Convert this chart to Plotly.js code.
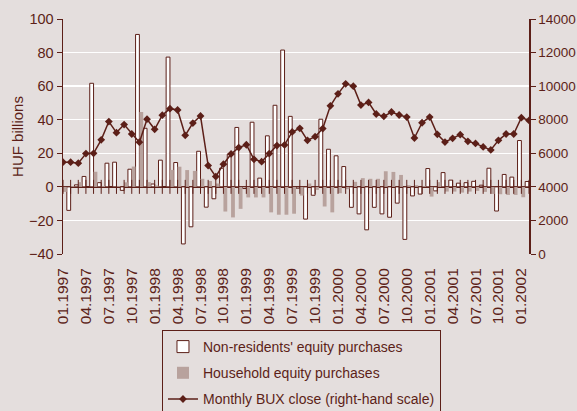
<!DOCTYPE html>
<html>
<head>
<meta charset="utf-8">
<script src="https://cdn.plot.ly/plotly-3.0.1.min.js"></script>
<style>
  html, body { margin: 0; padding: 0; background: #e4dedd; }
  #chart { width: 577px; height: 411px; }
</style>
</head>
<body>
<div id="chart"></div>
<script>
// Month-end BUX closes, 01.1997 - 02.2002 (right-hand scale)
const buxClose = [5470, 5470, 5410, 5980, 6000, 6800, 7890, 7230, 7710, 7150,
  6660, 8030, 7430, 8270, 8660, 8580, 7070, 7800, 8220, 5270,
  4610, 5350, 5960, 6340, 6510, 5640, 5500, 5980, 6460, 6500,
  7270, 7490, 6770, 6990, 7470, 8830, 9540, 10140, 10000, 8870,
  9030, 8340, 8200, 8460, 8280, 8160, 6910, 7820, 8160, 7130,
  6670, 6890, 7110, 6710, 6590, 6380, 6200, 6770, 7150, 7150,
  8120, 7960];

// Monthly flows between closes (HUF billions)
const nonResidents = [-14, 1.2, 6.2, 61.7, 2.5, 14.1, 14.7, -2.1, 10.5, 90.8,
  34.9, 1.7, 15.9, 77.3, 14.5, -34, -23.8, 21.2, -12.1, -7.1,
  11.1, 19.5, 35.4, -1, 38.5, 5.2, 30.4, 48.6, 81.5, 42,
  -0.8, -19.2, -5, 40.3, 22.4, 18.5, 12.1, -12.2, -16.1, -25.6,
  -12.2, -16.1, -18.1, -9.7, -31.3, -5.4, -4.3, 10.9, -2.4, 8.5,
  4, 2.2, 2.5, 3.3, 1, 11.1, -14.4, 7.4, 5.8, 27.6,
  3.2];

const household = [-3, 0.5, 2.8, 0, 9, 0.5, 0, 0.5, 2.7, 12.1,
  44.6, 2.8, 0.8, 0, 10.1, 12, 10, 9.5, 4.8, 3.5,
  2, -14.7, -18.2, -13.1, -6.3, -6.3, -6.3, -15.2, -16.6, -16.6,
  -16, -5.2, 2, -1.8, -11.7, -15.2, -3.8, -1.4, 3, 5.2,
  4.8, 4.8, 9.3, 8.9, 7.1, 1, 1, 0.5, -5.8, 2.8,
  -2.8, -2.8, -3.4, -2.8, -2.4, -3, -4.2, -4.4, -4.8, -4.8,
  -6.2];

const tickLabels = ["01.1997", "04.1997", "07.1997", "10.1997", "01.1998", "04.1998",
  "07.1998", "10.1998", "01.1999", "04.1999", "07.1999", "10.1999", "01.2000",
  "04.2000", "07.2000", "10.2000", "01.2001", "04.2001", "07.2001", "10.2001", "01.2002"];

const seriesNames = ["Non-residents' equity purchases", "Household equity purchases",
  "Monthly BUX close (right-hand scale)"];

const BROWN = '#5c1f18';
const GREY = '#b8a29d';
const BG = '#e4dedd';
const FONT = '"Liberation Sans Narrow", "Arial Narrow", "Liberation Sans", Arial, sans-serif';

const closeIdx = buxClose.map((_, i) => i);
const flowIdx = nonResidents.map((_, i) => i + 0.5);
const tickIdx = tickLabels.map((_, i) => i * 3);

const traces = [
  {
    type: 'bar', name: seriesNames[0], x: flowIdx, y: nonResidents,
    offset: 0, width: 0.5,
    marker: { color: '#ffffff', line: { color: BROWN, width: 1 } },
    legendgroup: 'a', hoverinfo: 'skip'
  },
  {
    type: 'bar', name: seriesNames[1], x: flowIdx, y: household,
    offset: -0.5, width: 0.5,
    marker: { color: GREY, line: { width: 0 } },
    legendgroup: 'b', hoverinfo: 'skip'
  },
  {
    type: 'scatter', mode: 'markers', x: closeIdx, y: closeIdx.map(() => 0),
    marker: { symbol: 'line-ns', size: 10, line: { color: BROWN, width: 1 } },
    showlegend: false, hoverinfo: 'skip'
  },
  {
    type: 'scatter', mode: 'lines+markers', name: seriesNames[2],
    x: closeIdx, y: buxClose, yaxis: 'y2',
    line: { color: BROWN, width: 1.5 },
    marker: { symbol: 'diamond', size: 6, color: BROWN },
    legendgroup: 'c', hoverinfo: 'skip'
  }
];

const layout = {
  width: 577, height: 411,
  margin: { l: 63, r: 48, t: 19, b: 157, pad: 0, autoexpand: false },
  paper_bgcolor: BG, plot_bgcolor: BG,
  font: { family: FONT, size: 15, color: BROWN },
  barmode: 'overlay',
  showlegend: true,
  xaxis: {
    range: [0, 61], tickmode: 'array', tickvals: tickIdx, ticktext: tickLabels,
    tickangle: -90, ticks: 'outside', ticklen: 7, tickcolor: 'rgba(0,0,0,0)',
    showgrid: false, zeroline: false, showline: false,
    tickfont: { family: FONT, size: 15.5, color: BROWN }
  },
  yaxis: {
    range: [-40, 100], tickmode: 'linear', tick0: 0, dtick: 20,
    showgrid: true, gridcolor: '#ffffff', gridwidth: 1.5,
    zeroline: true, zerolinecolor: BROWN, zerolinewidth: 1.5,
    showline: true, linecolor: BROWN, linewidth: 1.5,
    ticks: 'outside', ticklen: 5, tickcolor: BROWN, tickwidth: 1,
    tickfont: { family: FONT, size: 14.5, color: BROWN },
    title: { text: 'HUF billions', font: { family: FONT, size: 15, color: BROWN } }
  },
  yaxis2: {
    range: [0, 14000], tickmode: 'linear', tick0: 0, dtick: 2000, tickformat: 'd',
    overlaying: 'y', side: 'right',
    showgrid: false, zeroline: false,
    showline: true, linecolor: BROWN, linewidth: 1.5,
    ticks: 'outside', ticklen: 5, tickcolor: BROWN, tickwidth: 1,
    tickfont: { family: FONT, size: 13.5, color: BROWN }
  },
  legend: {
    x: 0.2124, y: -0.3234, xanchor: 'left', yanchor: 'top',
    bgcolor: BG, bordercolor: BROWN, borderwidth: 1,
    font: { family: FONT, size: 14, color: BROWN },
    traceorder: 'grouped', tracegroupgap: 5
  }
};

Plotly.newPlot('chart', traces, layout, { displayModeBar: false, staticPlot: true });
</script>
</body>
</html>
